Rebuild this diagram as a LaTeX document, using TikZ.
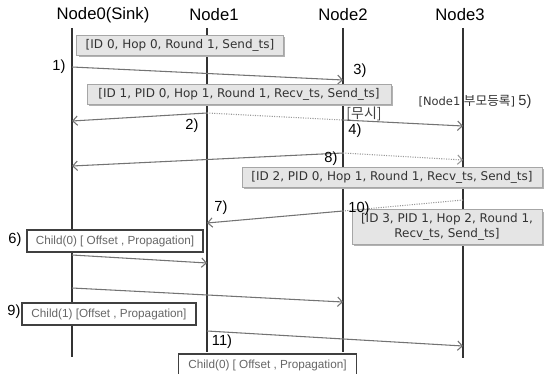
\documentclass[tikz,border=0pt]{standalone}
\usepackage{fontspec}
\setmainfont{Liberation Sans}
\newfontfamily\dejavu{DejaVu Sans}
\newfontfamily\kr{Noto Sans CJK KR}
\usetikzlibrary{shadows,arrows.meta}

\begin{document}
\begin{tikzpicture}[x=0.75pt,y=-0.75pt,
  every node/.style={inner sep=0pt},
  head/.style={font=\fontsize{12.5}{14}\selectfont},
  num/.style={font=\fontsize{11}{13}\selectfont},
  life/.style={line width=1.8pt,black!80},
  msg/.style={draw=black!55,line width=0.8pt,-{Straight Barb[length=3.5pt,width=7pt]}},
  ign/.style={draw=black!40,line width=0.8pt,densely dotted},
  pkt/.style={draw=black!35,fill=black!10,
    drop shadow={shadow xshift=1.5pt,shadow yshift=-1.5pt,fill=black!30,opacity=1},
    font={\dejavu\fontsize{9}{11}\selectfont},text=black!80,align=center},
  child/.style={draw=black!75,line width=0.9pt,fill=white,
    font=\fontsize{8.8}{10}\selectfont,text=black!60,minimum height=16.5pt}]
\useasboundingbox (0,0) rectangle (545,374);

% node heads
\node[head] (h0) at (103,15) {Node0(Sink)};
\node[head] (h1) at (214,15) {Node1};
\node[head] (h2) at (343,15) {Node2};
\node[head] (h3) at (460,15) {Node3};

% lifelines
\coordinate (t0) at (72,28);  \coordinate (b0) at (72,357);
\coordinate (t1) at (207,28); \coordinate (b1) at (207,352);
\coordinate (t2) at (343,28); \coordinate (b2) at (343,352);
\coordinate (t3) at (463,28); \coordinate (b3) at (463,358);
\draw[life] (t0) -- (b0);
\draw[life] (t1) -- (b1);
\draw[life] (t2) -- (b2);
\draw[life] (t3) -- (b3);

% 1) sink sends first beacon
\coordinate (m1a) at (72,67);  \coordinate (m1b) at (343,80);
\draw[msg] (m1a) -- (m1b);
\node[pkt,minimum width=155pt,minimum height=15pt] (p0) at (180,45)
  {[ID 0, Hop 0, Round 1, Send\_ts]};

% 2) Node1 broadcasts
\coordinate (m2) at (207,113);
\coordinate (m2a) at (72,121);
\coordinate (m2b) at (343,120);
\coordinate (m2c) at (463,126);
\draw[msg] (m2) -- (m2a);
\draw[ign] (m2) -- (m2b);
\draw[msg] (m2b) -- (m2c);
\node[pkt,minimum width=228pt,minimum height=15pt] (p1) at (239,94)
  {[ID 1, PID 0, Hop 1, Round 1, Recv\_ts, Send\_ts]};

% 8) Node2 broadcasts
\coordinate (m8) at (343,153);
\coordinate (m8a) at (72,166);
\coordinate (m8b) at (463,160);
\draw[msg] (m8) -- (m8a);
\draw[ign,-{Straight Barb[length=3.5pt,width=7pt]}] (m8) -- (m8b);
\node[pkt,minimum width=225pt,minimum height=15pt] (p2) at (392,177)
  {[ID 2, PID 0, Hop 1, Round 1, Recv\_ts, Send\_ts]};

% 10) Node3 answers its parent
\coordinate (m7) at (463,200);
\coordinate (m7a) at (343,211);
\coordinate (m7b) at (207,223);
\draw[ign] (m7) -- (m7a);
\draw[msg] (m7a) -- (m7b);
\node[pkt,minimum width=142.5pt,minimum height=26pt] (p3) at (447,227)
  {[ID 3, PID 1, Hop 2, Round 1,\\Recv\_ts, Send\_ts]};

% child tables
\coordinate (c1a) at (72,255);  \coordinate (c1b) at (207,263);
\draw[msg] (c1a) -- (c1b);
\coordinate (c2a) at (72,288);  \coordinate (c2b) at (343,302);
\draw[msg] (c2a) -- (c2b);
\coordinate (c3a) at (207,331); \coordinate (c3b) at (463,346);
\draw[msg] (c3a) -- (c3b);
\node[child,minimum width=132pt] (k0) at (115,241) {Child(0) [ Offset , Propagation]};
\node[child,minimum width=130.5pt] (k1) at (109,314) {Child(1) [Offset , Propagation]};
\node[child,minimum width=134pt] (k2) at (267.5,365) {Child(0) [ Offset , Propagation]};

% step numbers
\node[num] (n1) at (59,67) {1)};
\node[num] (n3) at (360,71) {3)};
\node[num] (n2) at (192,126) {2)};
\node[font={\kr\fontsize{10.5}{12}\selectfont},text=black!75] (ig) at (364,114) {[무시]};
\node[font=\fontsize{9}{11}\selectfont,text=black!80] (n5) at (475,102)
  {{\dejavu\fontsize{8.6}{10}\selectfont[Node1 }{\kr\fontsize{9.5}{11}\selectfont 부모등록}{\dejavu\fontsize{8.6}{10}\selectfont]} {\fontsize{11}{13}\selectfont 5)}};
\node[num] (n4) at (355,131) {4)};
\node[num] (n8) at (331,159) {8)};
\node[num] (n7) at (221,208) {7)};
\node[num] (n10) at (359,209) {10)};
\node[num] (n6) at (15,240) {6)};
\node[num] (n9) at (14,312) {9)};
\node[num] (n11) at (222,342) {11)};
\end{tikzpicture}
\end{document}
